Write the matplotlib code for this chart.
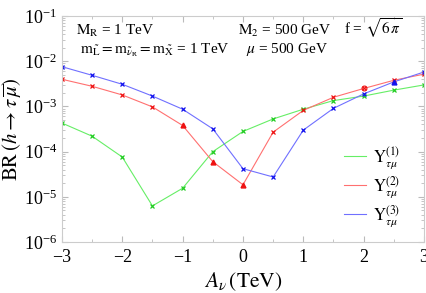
import matplotlib
matplotlib.use("Agg")
import matplotlib.pyplot as plt
import numpy as np
from matplotlib.ticker import LogLocator, MultipleLocator, NullFormatter

plt.rcParams['font.family'] = ['Liberation Serif', 'DejaVu Serif']
plt.rcParams['mathtext.fontset'] = 'stix'

A = [-3, -2.5, -2, -1.5, -1, -0.5, 0, 0.5, 1, 1.5, 2, 2.5, 3]
y1 = [4.3e-4, 2.2e-4, 7.6e-5, 6.3e-6, 1.55e-5, 1.0e-4, 2.8e-4, 5.3e-4, 8.7e-4, 1.35e-3, 1.7e-3, 2.3e-3, 3.0e-3]
y2 = [4.0e-3, 2.8e-3, 1.8e-3, 9.8e-4, 3.8e-4, 6.0e-5, 1.85e-5, 2.7e-4, 8.2e-4, 1.6e-3, 2.5e-3, 3.8e-3, 5.2e-3]
y3 = [7.6e-3, 4.9e-3, 3.1e-3, 1.7e-3, 8.7e-4, 3.2e-4, 4.2e-5, 2.75e-5, 3.0e-4, 9.1e-4, 1.9e-3, 3.5e-3, 5.8e-3]
labels = [r'$\mathrm{Y}^{(1)}_{\tau\mu}$', r'$\mathrm{Y}^{(2)}_{\tau\mu}$', r'$\mathrm{Y}^{(3)}_{\tau\mu}$']
xticklabels = ['\u22123', '\u22122', '\u22121', '0', '1', '2', '3']
colors = ['#66ee66', '#ff7070', '#7070ff']
tri2 = [4, 5, 6]   # indices drawn as triangles for series 2
circ2 = [10]
tri3 = [11]        # for series 3

fig = plt.figure(figsize=(4.27, 2.93), dpi=100)
ax = fig.add_axes([0.145, 0.174, 0.848, 0.771])

for y, c, lab in zip([y1, y2, y3], colors, labels):
    ax.plot(A, y, color=c, lw=0.8, label=lab)

def markers(y, c, tri, circ=()):
    skip = list(tri) + list(circ)
    xs = [a for i, a in enumerate(A) if i not in skip]
    ys = [v for i, v in enumerate(y) if i not in skip]
    ax.plot(xs, ys, ls='none', marker='x', ms=3.5, mew=0.9, color=c)
    if tri:
        ax.plot([A[i] for i in tri], [y[i] for i in tri], ls='none', marker='^', ms=3.5, color=c)
    if circ:
        ax.plot([A[i] for i in circ], [y[i] for i in circ], ls='none', marker='o', ms=3.5,
                mfc='none', mew=0.8, color=c)
        ax.plot([A[i] for i in circ], [y[i] for i in circ], ls='none', marker='x', ms=3.0,
                mew=0.8, color=c)

markers(y1, '#22cc22', [])
markers(y2, '#ee1111', tri2, circ2)
markers(y3, '#1111ee', tri3)

ax.set_yscale('log')
ax.set_xlim(-3, 3)
ax.set_ylim(1e-6, 1e-1)
ax.set_xticks([-3, -2, -1, 0, 1, 2, 3])
ax.set_xticklabels(xticklabels)
ax.xaxis.set_minor_locator(MultipleLocator(0.5))
ax.yaxis.set_major_locator(LogLocator(base=10, numticks=10))
ax.yaxis.set_minor_locator(LogLocator(base=10, subs=np.arange(2, 10), numticks=50))
ax.yaxis.set_minor_formatter(NullFormatter())
ax.tick_params(which='both', direction='in', top=True, right=True, colors='#bbbbbb',
               labelcolor='black', labelsize=13)
ax.tick_params(axis='x', which='major', pad=5)
ax.tick_params(which='major', length=4)
ax.tick_params(which='minor', length=2)
for s in ax.spines.values():
    s.set_color('#cccccc')

ax.set_xlabel(r'$A_{\nu}\,(\mathrm{TeV})$', fontsize=15.5, labelpad=3)
ax.set_ylabel(r'$\mathrm{BR}\,(h\rightarrow\tau\,\overline{\mu})$', fontsize=15, labelpad=0)

fs = 11
ax.text(0.039, 0.915, r'$\mathrm{M_R}$ = 1 TeV', transform=ax.transAxes, fontsize=fs, va='baseline')
ax.text(0.05, 0.835, r'$\mathrm{m}_{\tilde{\mathrm{L}}} = \mathrm{m}_{\tilde{\nu}_{\mathrm{R}}} = \mathrm{m}_{\tilde{\mathrm{X}}}$ = 1 TeV',
        transform=ax.transAxes, fontsize=fs, va='baseline')
ax.text(0.487, 0.915, r'$\mathrm{M_2}$ = 500 GeV', transform=ax.transAxes, fontsize=fs, va='baseline')
ax.text(0.508, 0.835, r'$\mu$ = 500 GeV', transform=ax.transAxes, fontsize=fs, va='baseline')
ax.text(0.78, 0.92, r'f = $\sqrt{6\,\pi}$', transform=ax.transAxes, fontsize=fs, va='baseline')

leg = ax.legend(loc='lower right', frameon=False, fontsize=12, handlelength=1.3,
                handletextpad=0.4, bbox_to_anchor=(0.975, -0.01), labelspacing=0.2)

fig.savefig('out.png', dpi=100)
